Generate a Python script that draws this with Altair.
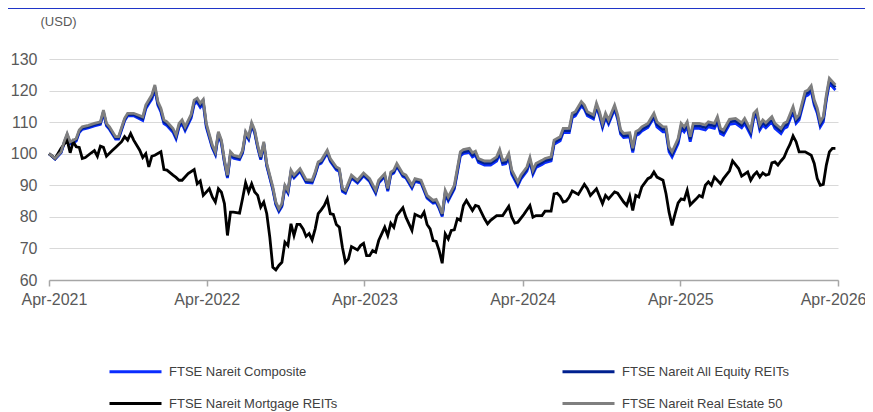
import altair as alt
import pandas as pd

START = "2021-04-01"

NAMES = ["FTSE Nareit Composite", "FTSE Nareit All Equity REITs",
         "FTSE Nareit Mortgage REITs", "FTSE Nareit Real Estate 50"]
COLORS = ["#0a2cff", "#00208f", "#000000", "#7f7f7f"]

# week offsets from START (weekly observations)
WEEKS_EQ = [
    0, 2, 4, 5, 6, 7, 8, 9, 10, 11,
    13, 15, 17, 18, 19, 20, 22, 23, 25, 26,
    28, 31, 32, 33, 34, 35, 36, 37, 38, 39,
    41, 42, 43, 44, 45, 47, 48, 49, 50, 51,
    52, 54, 55, 56, 57, 58, 59, 60, 61, 63,
    64, 65, 66, 67, 68, 69, 70, 71, 72, 74,
    75, 76, 77, 78, 79, 80, 81, 83, 85, 87,
    88, 89, 90, 92, 93, 95, 96, 97, 98, 100,
    102, 104, 106, 108, 109, 111, 112, 113, 114, 115,
    117, 118, 120, 121, 123, 125, 127, 128, 129, 130,
    131, 132, 134, 135, 136, 137, 139, 140, 141, 142,
    144, 146, 148, 149, 150, 151, 152, 153, 155, 156,
    158, 159, 160, 161, 163, 164, 166, 167, 169, 170,
    171, 172, 173, 174, 176, 177, 178, 180, 181, 182,
    183, 184, 185, 187, 188, 189, 190, 192, 193, 194,
    195, 196, 198, 200, 201, 203, 204, 205, 206, 208,
    209, 210, 211, 212, 213, 215, 217, 218, 220, 221,
    222, 223, 225, 227, 229, 230, 232, 233, 234, 235,
    236, 237, 239, 240, 242, 243, 244, 246, 247, 248,
    250, 251, 252, 253, 254, 255, 256, 257, 258, 260,
]

REAL_ESTATE_50 = [
    100, 98.5, 100.6, 103.8, 106.4, 103.8, 104.3, 104.8, 107.5, 108.5,
    109, 109.6, 110.1, 113.8, 109.6, 108.5, 105.4, 105.4, 111.2, 112.8,
    112.8, 111.7, 115.4, 117, 118.6, 121.8, 116.5, 114.4, 110.7, 110.1,
    108, 105.9, 109.6, 110.7, 108.5, 112.5, 117, 117.6, 116, 117.2,
    109.6, 102.7, 100.6, 107, 104.3, 98, 93.2, 100.6, 99.5, 99,
    101.1, 107, 105.4, 109.8, 107.5, 102.7, 99, 103.8, 96.9, 89.5,
    84.7, 82.6, 84.2, 90, 88.4, 94.8, 93.2, 95.3, 91.8, 91.6,
    94.2, 97.4, 97.9, 101.1, 98.5, 95.8, 95.3, 89, 88.4, 93.2,
    91.6, 93.9, 92.1, 88.4, 91.6, 93.7, 89, 94.2, 94.8, 96.9,
    93.7, 93.2, 90, 92.1, 91.6, 86.8, 85.2, 85.5, 83.5, 81,
    88.4, 86.3, 90, 95.3, 100.6, 101.3, 101.7, 100.3, 100.8, 98.5,
    97.7, 97.7, 99, 101.3, 97.9, 98.1, 100, 94.8, 91.1, 93.2,
    95.8, 98.8, 94.8, 96.9, 97.9, 98.5, 99, 104.3, 105.4, 108,
    108, 108, 112.8, 113.3, 116.5, 115.4, 113.3, 112.3, 116, 113.3,
    109.6, 112.8, 110.7, 115.4, 112.3, 107.5, 106.4, 106.6, 101.7, 107,
    107.5, 108.5, 109.6, 112.8, 110.1, 108.5, 108.5, 102.2, 100.6, 104.8,
    109.6, 108.5, 110.1, 105.4, 109.6, 109.6, 109.1, 110.1, 109.6, 111.7,
    108, 107.5, 110.9, 111.2, 109.8, 111.2, 107.5, 112.8, 113.8, 109.1,
    110.7, 109.8, 111.7, 109.6, 108, 109.6, 110.1, 114.9, 111.2, 112.3,
    119.7, 120.2, 121.5, 117, 114.4, 110.1, 111.7, 118.6, 123.9, 121.8,
]

COMPOSITE = [
    100, 98.3, 100.3, 103.2, 105.7, 103.1, 103.5, 104.0, 106.7, 107.7,
    108.2, 108.8, 109.3, 112.9, 108.8, 107.7, 104.6, 104.6, 110.4, 112.0,
    112.0, 110.5, 114.2, 115.8, 117.3, 120.4, 115.3, 113.2, 109.5, 108.9,
    106.8, 104.7, 108.4, 109.5, 107.3, 111.3, 115.7, 116.3, 114.7, 115.9,
    108.4, 101.8, 99.7, 106.1, 103.4, 97.1, 92.3, 99.7, 98.6, 98.1,
    100.2, 106.1, 104.5, 108.9, 106.6, 101.8, 98.1, 102.9, 96.0, 88.6,
    83.8, 81.7, 83.3, 89.1, 87.5, 93.9, 92.3, 94.4, 90.9, 90.7,
    93.3, 96.5, 97.0, 100.2, 97.6, 94.9, 94.4, 88.1, 87.5, 92.3,
    90.7, 93.0, 91.2, 87.5, 90.7, 92.8, 88.1, 93.3, 93.9, 96.0,
    92.8, 92.3, 89.1, 91.2, 90.7, 85.9, 84.3, 84.6, 82.6, 80.1,
    87.2, 85.1, 88.8, 94.0, 99.3, 100.0, 100.4, 99.0, 99.5, 97.2,
    96.4, 96.4, 97.7, 100.0, 96.6, 96.8, 98.7, 93.5, 89.8, 91.9,
    94.5, 97.5, 93.5, 95.6, 96.6, 97.2, 97.7, 103.0, 104.1, 106.7,
    106.7, 106.7, 111.5, 112.0, 115.2, 114.1, 112.0, 111.0, 114.7, 112.0,
    108.3, 111.5, 109.4, 114.1, 111.0, 106.2, 105.1, 105.3, 100.4, 105.7,
    106.2, 107.2, 108.3, 111.5, 108.5, 106.9, 106.9, 100.6, 99.0, 103.2,
    108.0, 106.9, 108.5, 103.8, 108.0, 108.0, 107.5, 108.5, 108.0, 110.1,
    106.4, 105.9, 109.3, 109.6, 108.2, 109.6, 105.9, 111.2, 112.2, 107.5,
    109.1, 108.2, 110.1, 108.0, 106.4, 108.0, 108.5, 113.3, 109.6, 110.7,
    118.1, 118.6, 119.9, 115.4, 112.8, 108.5, 110.1, 117.0, 122.3, 120.2,
]

ALL_EQUITY = [
    100, 98.4, 100.5, 103.5, 106.0, 103.4, 103.9, 104.4, 107.1, 108.1,
    108.6, 109.2, 109.7, 113.3, 109.2, 108.1, 105.0, 105.0, 110.8, 112.4,
    112.4, 111.1, 114.8, 116.4, 117.9, 121.1, 115.9, 113.8, 110.1, 109.5,
    107.4, 105.3, 109.0, 110.1, 107.9, 111.9, 116.3, 116.9, 115.3, 116.5,
    109.0, 102.2, 100.1, 106.5, 103.8, 97.5, 92.7, 100.1, 99.0, 98.5,
    100.6, 106.5, 104.9, 109.3, 107.0, 102.2, 98.5, 103.3, 96.4, 89.0,
    84.2, 82.1, 83.7, 89.5, 87.9, 94.3, 92.7, 94.8, 91.3, 91.1,
    93.7, 96.9, 97.4, 100.6, 98.0, 95.3, 94.8, 88.5, 87.9, 92.7,
    91.1, 93.4, 91.6, 87.9, 91.1, 93.2, 88.5, 93.7, 94.3, 96.4,
    93.2, 92.7, 89.5, 91.6, 91.1, 86.3, 84.7, 85.0, 83.0, 80.5,
    87.7, 85.6, 89.3, 94.6, 99.9, 100.6, 101.0, 99.6, 100.1, 97.8,
    97.0, 97.0, 98.3, 100.6, 97.2, 97.4, 99.3, 94.1, 90.4, 92.5,
    95.1, 98.1, 94.1, 96.2, 97.2, 97.8, 98.3, 103.6, 104.7, 107.3,
    107.3, 107.3, 112.1, 112.6, 115.8, 114.7, 112.6, 111.6, 115.3, 112.6,
    108.9, 112.1, 110.0, 114.7, 111.6, 106.8, 105.7, 105.9, 101.0, 106.3,
    106.8, 107.8, 108.9, 112.1, 109.3, 107.7, 107.7, 101.4, 99.8, 104.0,
    108.8, 107.7, 109.3, 104.6, 108.8, 108.8, 108.3, 109.3, 108.8, 110.9,
    107.2, 106.7, 110.1, 110.4, 109.0, 110.4, 106.7, 112.0, 113.0, 108.3,
    109.9, 109.0, 110.9, 108.8, 107.2, 108.8, 109.3, 114.1, 110.4, 111.5,
    118.9, 119.4, 120.7, 116.2, 113.6, 109.3, 110.9, 117.8, 123.1, 121.0,
]

WEEKS_MORT = [
    0, 2, 4, 6, 7, 8, 9, 10, 11, 12,
    14, 15, 16, 17, 18, 19, 21, 22, 24, 25,
    26, 27, 28, 30, 31, 32, 33, 34, 35, 37,
    38, 39, 41, 42, 43, 44, 46, 48, 49, 50,
    51, 53, 54, 55, 56, 57, 58, 59, 60, 61,
    63, 64, 65, 66, 67, 68, 69, 70, 71, 72,
    73, 74, 75, 76, 77, 78, 79, 80, 81, 82,
    83, 84, 85, 86, 87, 88, 89, 90, 91, 92,
    93, 94, 95, 96, 97, 98, 99, 100, 102, 103,
    104, 105, 106, 107, 108, 109, 110, 111, 112, 113,
    114, 115, 117, 118, 120, 121, 123, 124, 125, 126,
    127, 128, 129, 130, 131, 132, 133, 134, 135, 136,
    137, 138, 139, 140, 141, 142, 144, 145, 146, 148,
    150, 152, 153, 154, 155, 157, 159, 160, 161, 163,
    164, 166, 167, 168, 169, 170, 171, 172, 173, 175,
    177, 178, 179, 181, 183, 184, 185, 187, 188, 190,
    191, 192, 193, 194, 195, 196, 198, 199, 200, 201,
    203, 204, 205, 206, 207, 208, 209, 210, 211, 212,
    214, 215, 216, 217, 218, 219, 220, 222, 223, 225,
    226, 228, 229, 231, 232, 233, 234, 235, 236, 237,
    238, 239, 240, 241, 242, 243, 244, 245, 246, 247,
    248, 250, 252, 253, 254, 255, 256, 257, 258, 259, 260,
]

MORTGAGE = [
    100, 98.5, 101.7, 104.3, 100.3, 103.8, 102.2, 102, 98.5, 98.8,
    100.3, 101, 99.2, 102.4, 102, 99.2, 101.1, 102, 103.8, 105.4,
    104.3, 106.4, 104.3, 101.1, 98.8, 100, 95.8, 99.2, 99.5, 100.6,
    95, 94.8, 93.2, 92.5, 91.6, 91.6, 93.7, 95, 90.5, 91.4,
    86.8, 88.9, 86.3, 84.7, 88.9, 87.8, 84.2, 74.1, 81.5, 81.5,
    81.2, 85.8, 90.8, 87.9, 90.5, 87.9, 86.8, 83.1, 84.7, 81,
    73.6, 64, 63.2, 64.6, 65.6, 72, 70.9, 77.8, 74.1, 77.6,
    77.6, 76.2, 73.8, 74.7, 72.7, 76.2, 81, 82.2, 83.6, 85.7,
    81, 80.8, 77.6, 76.7, 70.4, 65.6, 66.7, 70.6, 69.5, 70.9,
    71.6, 67.7, 67.7, 69.3, 68.8, 72.5, 74.6, 76.7, 74.1, 78,
    76.7, 80.4, 82.9, 79.9, 75.7, 80.8, 79.9, 81.5, 77.6, 76.2,
    72.5, 72.2, 69.3, 65.3, 74.6, 73, 75.7, 75.9, 79.4, 78.9,
    83.6, 85.2, 83.6, 82, 83.6, 83.3, 79.4, 77.8, 78.9, 80.4,
    80.4, 83.3, 79.9, 78, 78.3, 80.8, 83.6, 79.9, 80.4, 80.4,
    81.8, 81.8, 87.3, 87.5, 86.5, 84.7, 85, 86.3, 88.2, 87.1,
    90.3, 88.9, 86.8, 88.9, 84.2, 86.8, 85.7, 87.9, 87.5, 84.7,
    83.6, 86.5, 82, 86.8, 86.3, 89.5, 92.1, 92.6, 94.2, 92.6,
    91.6, 87.3, 81.5, 77.3, 81, 84.4, 85.7, 85.4, 88.4, 83.8,
    85.7, 86.8, 86.3, 90, 91.1, 90, 92.6, 90.5, 92.1, 94.6,
    97.7, 95.3, 92.9, 94.2, 91.6, 93.2, 94.2, 92.6, 93.9, 93.2,
    93.5, 97.1, 97.4, 96.4, 97.7, 98.8, 101.1, 103, 105.6, 103.8,
    100.6, 100.6, 99.5, 96.9, 92.1, 90, 90.3, 96.4, 100.6, 101.7, 101.7,
]

YEARS = [2021, 2022, 2023, 2024, 2025, 2026]
Y_TICKS = [60, 70, 80, 90, 100, 110, 120, 130]

start = pd.Timestamp(START)


def frame(name, weeks, vals):
    assert len(weeks) == len(vals), name
    return pd.DataFrame({
        "date": start + pd.to_timedelta([w * 7 for w in weeks], unit="D"),
        "value": vals,
        "series": name,
    })


df = pd.concat([
    frame(NAMES[0], WEEKS_EQ, COMPOSITE),
    frame(NAMES[1], WEEKS_EQ, ALL_EQUITY),
    frame(NAMES[2], WEEKS_MORT, MORTGAGE),
    frame(NAMES[3], WEEKS_EQ, REAL_ESTATE_50),
], ignore_index=True)

FONT = "Liberation Sans"

x_enc = alt.X(
    "date:T",
    scale=alt.Scale(domain=[alt.DateTime(year=2021, month=4, date=1),
                            alt.DateTime(year=2026, month=4, date=1)]),
    axis=alt.Axis(
        values=[alt.DateTime(year=y, month=4, date=1) for y in YEARS],
        format="%b-%Y", title=None, grid=False,
        domainColor="#a6a6a6", domainWidth=1.5,
        tickColor="#a6a6a6", tickWidth=1.5, tickSize=6,
        labelFont=FONT, labelFontSize=16, labelColor="#595959",
        labelPadding=5, labelOverlap=False,
        labelFlush=True, labelFlushOffset=28,
    ),
)
y_enc = alt.Y(
    "value:Q",
    scale=alt.Scale(domain=[60, 130], nice=False, zero=False),
    axis=alt.Axis(
        values=Y_TICKS, title="(USD)", titleAngle=0, titleAlign="left",
        titleBaseline="alphabetic", titleX=-9, titleY=-34,
        titleFont=FONT, titleFontSize=13, titleFontWeight="normal",
        titleColor="#595959",
        labelFont=FONT, labelFontSize=16, labelColor="#595959",
        labelPadding=12, domain=False, ticks=False,
        gridColor="#d9d9d9", gridWidth=1,
    ),
)
color_enc = alt.Color(
    "series:N",
    scale=alt.Scale(domain=NAMES, range=COLORS),
    legend=alt.Legend(
        title=None, orient="none", legendX=75, legendY=301, columns=2,
        direction="horizontal",
        symbolType="M-2.6,0H2.6", symbolSize=400, symbolStrokeWidth=3,
        labelFont=FONT, labelFontSize=13, labelColor="#404040",
        labelOffset=22, columnPadding=218, rowPadding=13, labelLimit=400,
    ),
)

layers = []
for name in NAMES:
    layers.append(
        alt.Chart(df)
        .transform_filter(alt.datum.series == name)
        .mark_line(strokeWidth=2.8)
        .encode(x=x_enc, y=y_enc, color=color_enc)
    )

top_rule = alt.Chart(pd.DataFrame({"a": [0]})).mark_rule(
    color="#1f35c8", strokeWidth=1.2
).encode(x=alt.value(-41), x2=alt.value(816), y=alt.value(-50.5))

chart = alt.layer(*layers, top_rule).properties(
    width=789, height=221,
    padding={"left": 41, "top": 51, "right": 27, "bottom": 134},
    autosize=alt.AutoSizeParams(type="none"),
).configure_view(stroke=None)

chart.save("out.html", embed_options={"renderer": "svg", "actions": False})
